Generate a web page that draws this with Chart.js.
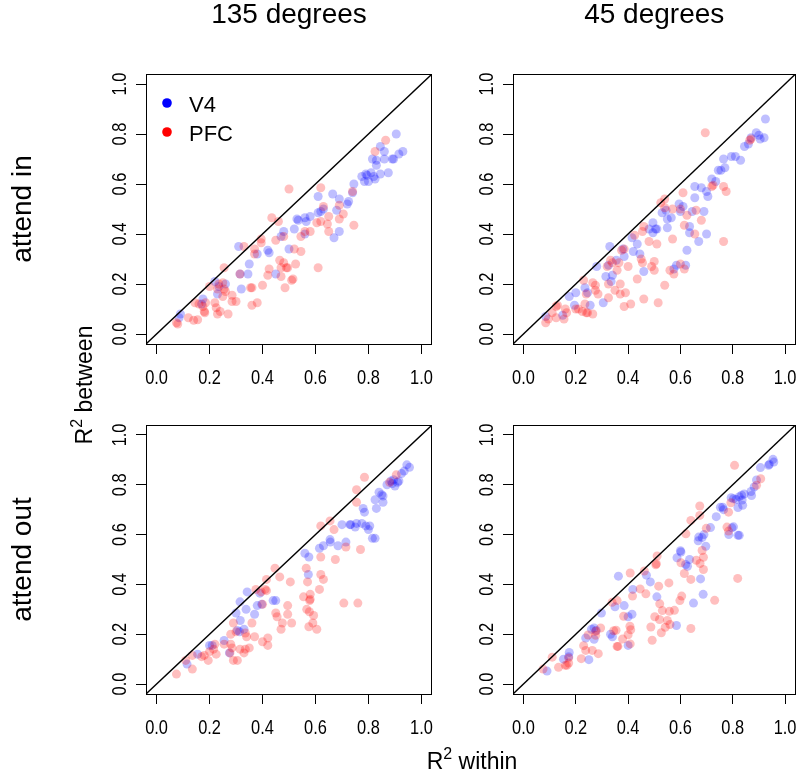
<!DOCTYPE html>
<html>
<head>
<meta charset="utf-8">
<script src="https://cdn.jsdelivr.net/npm/chart.js@4.4.0/dist/chart.umd.min.js"></script>
<style>
html, body { margin: 0; padding: 0; background: #fff; }
#wrap { position: relative; width: 800px; height: 772px; }
#wrap canvas { position: absolute; left: 0; top: 0; }
</style>
</head>
<body>
<div id="wrap">
  <canvas id="p0" width="800" height="772"></canvas>
  <canvas id="p1" width="800" height="772"></canvas>
  <canvas id="p2" width="800" height="772"></canvas>
  <canvas id="p3" width="800" height="772"></canvas>
</div>
<script>
// [R2 within, R2 between] per recording site
const in135V4 = [[0.09,0.08],[0.085,0.065],[0.17,0.12],[0.175,0.14],[0.22,0.21],[0.23,0.16],[0.26,0.2],[0.235,0.19],
  [0.31,0.35],[0.315,0.24],[0.32,0.18],[0.345,0.24],[0.35,0.28],[0.38,0.32],[0.42,0.335],[0.425,0.325],[0.45,0.24],
  [0.47,0.39],[0.48,0.41],[0.5,0.34],[0.52,0.42],[0.53,0.46],[0.535,0.455],[0.56,0.465],[0.565,0.45],[0.56,0.40],
  [0.58,0.47],[0.61,0.485],[0.62,0.49],[0.63,0.5],[0.61,0.55],[0.665,0.56],[0.67,0.385],[0.68,0.495],[0.69,0.54],
  [0.69,0.41],[0.72,0.52],[0.725,0.53],[0.74,0.565],[0.745,0.6],[0.775,0.63],[0.79,0.64],[0.795,0.635],[0.785,0.61],
  [0.80,0.61],[0.81,0.645],[0.82,0.63],[0.825,0.62],[0.815,0.7],[0.83,0.695],[0.83,0.675],[0.845,0.75],[0.86,0.73],
  [0.86,0.70],[0.845,0.64],[0.875,0.645],[0.89,0.70],[0.895,0.70],[0.905,0.80],[0.915,0.72],[0.93,0.73]];
const in135PFC = [[0.075,0.045],[0.08,0.04],[0.12,0.065],[0.14,0.055],[0.155,0.057],[0.145,0.125],[0.16,0.12],
  [0.175,0.11],[0.18,0.09],[0.182,0.085],[0.185,0.125],[0.2,0.19],[0.22,0.125],[0.225,0.105],[0.23,0.08],[0.23,0.18],
  [0.235,0.2],[0.24,0.09],[0.25,0.205],[0.25,0.15],[0.255,0.18],[0.26,0.17],[0.255,0.265],[0.27,0.08],[0.285,0.155],
  [0.285,0.13],[0.3,0.13],[0.315,0.24],[0.33,0.35],[0.355,0.185],[0.36,0.185],[0.36,0.115],[0.37,0.34],[0.37,0.32],
  [0.38,0.125],[0.395,0.38],[0.395,0.365],[0.4,0.195],[0.42,0.235],[0.425,0.26],[0.435,0.465],[0.45,0.375],[0.46,0.45],
  [0.465,0.295],[0.47,0.265],[0.47,0.23],[0.48,0.39],[0.48,0.285],[0.485,0.185],[0.49,0.265],[0.495,0.265],[0.5,0.58],
  [0.52,0.34],[0.51,0.215],[0.515,0.22],[0.525,0.28],[0.545,0.39],[0.545,0.33],[0.56,0.41],[0.58,0.41],[0.605,0.445],
  [0.61,0.265],[0.62,0.585],[0.62,0.45],[0.63,0.51],[0.645,0.44],[0.65,0.41],[0.65,0.47],[0.69,0.46],[0.69,0.515],
  [0.705,0.48],[0.74,0.57],[0.745,0.435],[0.825,0.73],[0.865,0.775]];

const in45V4 = [[0.085,0.07],[0.15,0.075],[0.175,0.15],[0.2,0.165],[0.195,0.115],[0.235,0.185],[0.245,0.165],
  [0.255,0.115],[0.28,0.27],[0.305,0.125],[0.315,0.23],[0.325,0.275],[0.33,0.35],[0.335,0.21],[0.34,0.235],[0.355,0.295],
  [0.38,0.34],[0.385,0.31],[0.415,0.385],[0.42,0.33],[0.435,0.36],[0.445,0.32],[0.46,0.25],[0.48,0.42],[0.495,0.445],
  [0.495,0.405],[0.505,0.42],[0.51,0.42],[0.53,0.485],[0.545,0.495],[0.55,0.425],[0.55,0.46],[0.565,0.465],[0.575,0.26],
  [0.585,0.275],[0.595,0.52],[0.6,0.49],[0.61,0.51],[0.62,0.275],[0.625,0.335],[0.635,0.405],[0.635,0.43],[0.645,0.49],
  [0.655,0.59],[0.655,0.545],[0.67,0.37],[0.68,0.585],[0.69,0.49],[0.7,0.57],[0.705,0.55],[0.7,0.4],[0.72,0.62],
  [0.735,0.61],[0.745,0.655],[0.755,0.655],[0.765,0.7],[0.77,0.665],[0.795,0.71],[0.81,0.71],[0.83,0.695],[0.845,0.75],
  [0.86,0.76],[0.87,0.785],[0.89,0.805],[0.9,0.795],[0.905,0.78],[0.92,0.785],[0.925,0.86]];
const in45PFC = [[0.085,0.045],[0.095,0.06],[0.11,0.085],[0.125,0.11],[0.13,0.115],[0.125,0.065],[0.16,0.1],
  [0.165,0.085],[0.155,0.06],[0.2,0.1],[0.21,0.1],[0.225,0.09],[0.23,0.215],[0.235,0.12],[0.24,0.16],[0.24,0.085],
  [0.245,0.085],[0.265,0.205],[0.275,0.195],[0.265,0.08],[0.275,0.175],[0.285,0.16],[0.32,0.27],[0.325,0.2],[0.325,0.145],
  [0.333,0.295],[0.34,0.285],[0.35,0.175],[0.358,0.255],[0.365,0.285],[0.37,0.2],[0.37,0.16],[0.375,0.335],[0.385,0.34],
  [0.385,0.11],[0.39,0.165],[0.4,0.27],[0.41,0.12],[0.425,0.395],[0.435,0.22],[0.45,0.3],[0.455,0.285],[0.455,0.41],
  [0.46,0.43],[0.46,0.14],[0.48,0.37],[0.49,0.27],[0.5,0.29],[0.5,0.255],[0.51,0.36],[0.515,0.125],[0.525,0.525],
  [0.54,0.54],[0.54,0.505],[0.54,0.195],[0.56,0.255],[0.57,0.5],[0.57,0.38],[0.575,0.24],[0.6,0.5],[0.6,0.28],
  [0.61,0.565],[0.615,0.26],[0.615,0.435],[0.625,0.475],[0.655,0.4],[0.66,0.495],[0.68,0.455],[0.695,0.805],[0.72,0.59],
  [0.725,0.595],[0.765,0.59],[0.775,0.57],[0.765,0.37],[0.865,0.775],[0.87,0.78]];

const out135V4 = [[0.115,0.08],[0.155,0.12],[0.2,0.155],[0.21,0.155],[0.255,0.175],[0.275,0.125],[0.3,0.285],
  [0.305,0.215],[0.315,0.33],[0.316,0.255],[0.313,0.21],[0.33,0.22],[0.338,0.3],[0.342,0.37],[0.37,0.28],[0.38,0.315],
  [0.39,0.365],[0.397,0.32],[0.44,0.335],[0.45,0.335],[0.56,0.525],[0.575,0.51],[0.573,0.44],[0.615,0.545],[0.63,0.555],
  [0.655,0.58],[0.656,0.57],[0.685,0.555],[0.7,0.64],[0.715,0.57],[0.73,0.64],[0.733,0.64],[0.75,0.63],[0.755,0.645],
  [0.775,0.645],[0.78,0.705],[0.785,0.69],[0.79,0.635],[0.8,0.62],[0.805,0.635],[0.815,0.585],[0.825,0.585],[0.825,0.74],
  [0.83,0.705],[0.84,0.77],[0.85,0.76],[0.855,0.755],[0.855,0.73],[0.87,0.8],[0.885,0.815],[0.89,0.805],[0.895,0.82],
  [0.9,0.795],[0.91,0.81],[0.915,0.815],[0.925,0.845],[0.935,0.855],[0.945,0.88],[0.955,0.87]];
const out135PFC = [[0.075,0.04],[0.11,0.095],[0.135,0.06],[0.135,0.115],[0.17,0.11],[0.18,0.115],[0.195,0.095],
  [0.2,0.13],[0.215,0.14],[0.22,0.16],[0.225,0.12],[0.255,0.16],[0.28,0.2],[0.28,0.16],[0.285,0.145],[0.29,0.245],
  [0.29,0.095],[0.305,0.095],[0.3,0.21],[0.315,0.14],[0.33,0.125],[0.335,0.205],[0.34,0.19],[0.335,0.14],[0.35,0.145],
  [0.36,0.245],[0.37,0.19],[0.375,0.38],[0.395,0.37],[0.4,0.32],[0.4,0.17],[0.41,0.38],[0.415,0.375],[0.415,0.42],
  [0.42,0.155],[0.42,0.185],[0.447,0.465],[0.45,0.285],[0.455,0.27],[0.465,0.43],[0.47,0.22],[0.475,0.245],[0.495,0.315],
  [0.495,0.28],[0.505,0.41],[0.51,0.245],[0.555,0.35],[0.565,0.465],[0.567,0.3],[0.57,0.41],[0.575,0.23],[0.577,0.29],
  [0.58,0.36],[0.58,0.34],[0.578,0.335],[0.59,0.245],[0.593,0.275],[0.605,0.22],[0.615,0.38],[0.62,0.635],[0.62,0.51],
  [0.62,0.44],[0.63,0.42],[0.655,0.655],[0.67,0.62],[0.675,0.5],[0.707,0.325],[0.715,0.55],[0.755,0.78],[0.755,0.73],
  [0.76,0.325],[0.77,0.54],[0.785,0.83],[0.88,0.81],[0.905,0.84],[0.277,0.125]];

const out45V4 = [[0.09,0.052],[0.153,0.1],[0.173,0.11],[0.175,0.127],[0.238,0.185],[0.25,0.098],[0.26,0.22],
  [0.27,0.18],[0.27,0.225],[0.278,0.215],[0.298,0.285],[0.333,0.2],[0.34,0.19],[0.35,0.31],[0.363,0.433],[0.385,0.315],
  [0.4,0.27],[0.4,0.155],[0.415,0.28],[0.418,0.38],[0.47,0.437],[0.485,0.41],[0.51,0.35],[0.585,0.235],[0.587,0.507],
  [0.6,0.535],[0.602,0.53],[0.62,0.48],[0.627,0.473],[0.635,0.5],[0.65,0.325],[0.668,0.575],[0.67,0.59],[0.677,0.422],
  [0.683,0.588],[0.69,0.6],[0.687,0.36],[0.697,0.553],[0.715,0.628],[0.737,0.672],[0.753,0.71],[0.762,0.71],[0.765,0.7],
  [0.785,0.6],[0.794,0.748],[0.803,0.744],[0.813,0.741],[0.797,0.627],[0.803,0.631],[0.82,0.597],[0.825,0.597],
  [0.82,0.709],[0.825,0.752],[0.834,0.758],[0.844,0.763],[0.836,0.739],[0.838,0.718],[0.87,0.773],[0.872,0.757],
  [0.882,0.791],[0.891,0.819],[0.906,0.869],[0.937,0.878],[0.94,0.882],[0.954,0.902],[0.957,0.891]];
const out45PFC = [[0.075,0.06],[0.11,0.108],[0.134,0.067],[0.16,0.075],[0.166,0.075],[0.173,0.084],[0.173,0.105],
  [0.221,0.102],[0.23,0.154],[0.238,0.135],[0.247,0.197],[0.263,0.135],[0.276,0.196],[0.276,0.212],[0.286,0.122],
  [0.295,0.225],[0.339,0.328],[0.345,0.214],[0.354,0.216],[0.358,0.335],[0.358,0.151],[0.361,0.151],[0.379,0.181],
  [0.383,0.272],[0.4,0.198],[0.407,0.232],[0.41,0.218],[0.408,0.446],[0.408,0.161],[0.417,0.353],[0.446,0.382],
  [0.462,0.454],[0.468,0.362],[0.487,0.229],[0.492,0.176],[0.502,0.27],[0.506,0.479],[0.508,0.483],[0.511,0.514],
  [0.517,0.393],[0.52,0.259],[0.521,0.322],[0.527,0.206],[0.531,0.295],[0.542,0.228],[0.55,0.255],[0.556,0.406],
  [0.558,0.292],[0.56,0.239],[0.577,0.296],[0.598,0.335],[0.605,0.353],[0.602,0.487],[0.615,0.444],[0.621,0.603],
  [0.64,0.657],[0.64,0.42],[0.64,0.223],[0.661,0.497],[0.675,0.484],[0.674,0.715],[0.674,0.677],[0.683,0.536],
  [0.688,0.509],[0.688,0.46],[0.699,0.625],[0.731,0.336],[0.778,0.63],[0.784,0.614],[0.784,0.69],[0.793,0.728],
  [0.807,0.878],[0.819,0.424],[0.891,0.798],[0.907,0.824]];

const tickVals = [0, 0.2, 0.4, 0.6, 0.8, 1.0];
const colTitles = ['135 degrees', '45 degrees'];
const rowTitles = ['attend in', 'attend out'];
const seriesNames = ['V4', 'PFC'];
const diagonal = [[-0.04, -0.04], [1.04, 1.04]];

const FONT = '"Liberation Sans", Arial, Helvetica, sans-serif';
const V4_COL = 'rgba(0,0,255,0.25)';
const PFC_COL = 'rgba(255,0,0,0.25)';

// panel boxes on the page: left, top, right, bottom
const panels = [
  { id: 'p0', box: [146, 74, 432, 344], v4: in135V4, pfc: in135PFC, row: 0, col: 0 },
  { id: 'p1', box: [513, 74, 799, 344], v4: in45V4, pfc: in45PFC, row: 0, col: 1 },
  { id: 'p2', box: [146, 425, 432, 694], v4: out135V4, pfc: out135PFC, row: 1, col: 0 },
  { id: 'p3', box: [513, 425, 799, 694], v4: out45V4, pfc: out45PFC, row: 1, col: 1 }
];

function putText(ctx, txt, x, y, size, opts) {
  opts = opts || {};
  ctx.save();
  ctx.translate(x, y);
  if (opts.rot) ctx.rotate(-Math.PI / 2);
  if (opts.sx) ctx.scale(opts.sx, 1);
  ctx.font = size + 'px ' + FONT;
  ctx.fillStyle = '#000';
  ctx.textAlign = opts.align || 'center';
  ctx.textBaseline = 'alphabetic';
  ctx.fillText(txt, 0, 0);
  ctx.restore();
}

// "R²" followed by more text, centred on x
function putR2(ctx, rest, x, y, size, rot) {
  ctx.save();
  ctx.translate(x, y);
  if (rot) ctx.rotate(-Math.PI / 2);
  ctx.fillStyle = '#000';
  ctx.textBaseline = 'alphabetic';
  ctx.textAlign = 'left';
  const big = size + 'px ' + FONT, small = Math.round(size * 0.7) + 'px ' + FONT;
  ctx.font = big;
  const wR = ctx.measureText('R').width, wRest = ctx.measureText(' ' + rest).width;
  ctx.font = small;
  const w2 = ctx.measureText('2').width;
  let cx = -(wR + w2 + wRest) / 2;
  ctx.font = big; ctx.fillText('R', cx, 0); cx += wR;
  ctx.font = small; ctx.fillText('2', cx, -size * 0.42); cx += w2;
  ctx.font = big; ctx.fillText(' ' + rest, cx, 0);
  ctx.restore();
}

function framePlugin(p) {
  return {
    id: 'frame' + p.id,
    afterDraw(chart) {
      const ctx = chart.ctx, a = chart.chartArea;
      const xs = chart.scales.x, ys = chart.scales.y;
      ctx.save();
      ctx.strokeStyle = '#000';
      ctx.lineWidth = 1;
      ctx.strokeRect(Math.round(a.left) + 0.5, Math.round(a.top) + 0.5,
        Math.round(a.right - a.left) - 1, Math.round(a.bottom - a.top));
      ctx.restore();
      tickVals.forEach(v => {
        putText(ctx, v.toFixed(1), xs.getPixelForValue(v), a.bottom + 40, 20, { sx: 0.82 });
        putText(ctx, v.toFixed(1), a.left - 20, ys.getPixelForValue(v), 20, { sx: 0.82, rot: true });
      });
      if (p.row === 0) putText(ctx, colTitles[p.col], (a.left + a.right) / 2, 23, 28);
      if (p.col === 0) putText(ctx, rowTitles[p.row], 31, (a.top + a.bottom) / 2, 28, { rot: true });
      if (p.id === 'p0') {
        // legend
        const cols = ['#0000ff', '#ff0000'];
        seriesNames.forEach((name, i) => {
          ctx.save();
          ctx.fillStyle = cols[i];
          ctx.beginPath();
          ctx.arc(a.left + 21, a.top + 29 + i * 29, 4.8, 0, Math.PI * 2);
          ctx.fill();
          ctx.restore();
          putText(ctx, name, a.left + 43, a.top + 38 + i * 29, 22, { align: 'left' });
        });
        putR2(ctx, 'between', 92, 385, 23, true);
        putR2(ctx, 'within', 472, 769, 23, false);
      }
    }
  };
}

function axisOpts(isX) {
  return {
    type: 'linear',
    min: -0.04,
    max: 1.04,
    afterBuildTicks: s => { s.ticks = tickVals.map(v => ({ value: v })); },
    afterFit: s => { if (isX) s.height = 40; else s.width = 40; },
    grid: { drawOnChartArea: false, drawTicks: true, tickLength: 10, color: '#000', lineWidth: 1 },
    border: { display: false },
    ticks: { display: false }
  };
}

panels.forEach(p => {
  const b = p.box;
  const toPts = arr => arr.map(d => ({ x: d[0], y: d[1] }));
  new Chart(document.getElementById(p.id).getContext('2d'), {
    type: 'scatter',
    data: {
      datasets: [
        { label: 'diag', data: toPts(diagonal), showLine: true, borderColor: '#000', borderWidth: 1.4,
          pointRadius: 0, fill: false, order: 0 },
        { label: seriesNames[1], data: toPts(p.pfc), backgroundColor: PFC_COL, borderColor: 'rgba(0,0,0,0)',
          pointRadius: 4.5, pointBorderWidth: 0, order: 1 },
        { label: seriesNames[0], data: toPts(p.v4), backgroundColor: V4_COL, borderColor: 'rgba(0,0,0,0)',
          pointRadius: 4.5, pointBorderWidth: 0, order: 2 }
      ]
    },
    options: {
      responsive: false,
      animation: false,
      events: [],
      layout: { padding: { left: b[0] - 40, top: b[1], right: 800 - b[2], bottom: 772 - b[3] - 40 } },
      plugins: { legend: { display: false }, tooltip: { enabled: false } },
      scales: { x: axisOpts(true), y: axisOpts(false) }
    },
    plugins: [framePlugin(p)]
  });
});
</script>
</body>
</html>
